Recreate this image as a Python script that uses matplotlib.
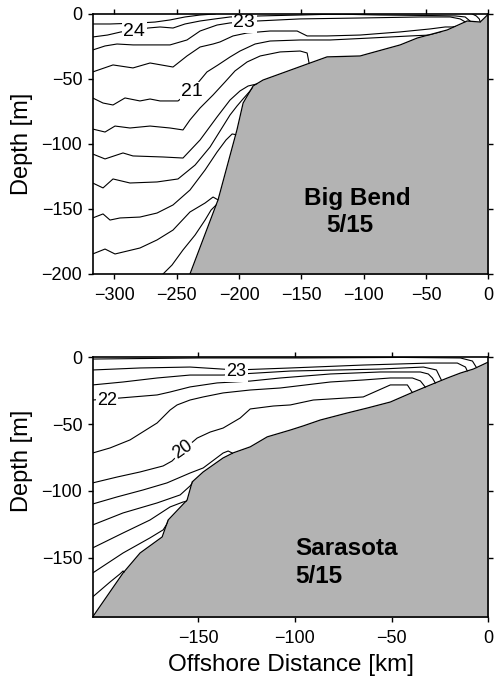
import matplotlib
matplotlib.use('Agg')
import matplotlib.pyplot as plt

plt.rcParams['font.family'] = ['Liberation Sans', 'DejaVu Sans']

# ---------------- Big Bend 5/15 (km offshore, depth m) ----------------
bb_bottom_x = [-239.3, -216.8, -201.6, -196.7, -188.7, -180.7, -143.0, -129.4,
               -102.9, -97.3, -70.8, -57.1, -33.1, -17.1, -6.6, 0.0]
bb_bottom_y = [-200.0, -143.0, -89.0, -68.5, -55.4, -50.8, -37.7, -33.0,
               -32.3, -30.8, -23.8, -18.5, -12.3, -5.4, -6.2, 0.0]

bb_t25_x = [-317.3, -303.4, -291.4, -279.4, -267.3, -255.3, -243.3, -231.2, -219.2]
bb_t25_y = [-7.7, -7.7, -7.3, -6.9, -6.2, -4.6, -2.3, -0.8, 0.0]
bb_t24_x = [-317.3, -305.4, -294.6, -284.2, -273.0, -263.3, -252.9, -243.3, -231.2,
            -219.2, -207.2, -183.0, -151.0, -118.9]
bb_t24_y = [-17.7, -16.2, -13.8, -13.1, -10.8, -10.0, -10.8, -7.7, -5.4,
            -3.8, -2.3, -1.5, -0.8, 0.0]
bb_t23_x = [-317.3, -307.4, -297.8, -284.9, -265.7, -255.3, -241.7, -231.2, -217.6,
            -207.2, -195.9, -185.5, -151.0, -102.9, -54.8, -30.7, -22.7, -18.7]
bb_t23_y = [-27.7, -24.6, -23.1, -23.8, -23.8, -23.8, -20.0, -13.1, -8.5,
            -6.9, -6.2, -5.4, -3.8, -3.1, -2.3, -2.3, -3.8, -6.1]
bb_t22_x = [-317.3, -301.0, -285.0, -271.3, -252.9, -241.7, -231.2, -220.8, -215.2,
            -204.8, -193.5, -175.1, -153.4, -145.4, -129.4, -102.9, -70.8, -46.7,
            -34.7, -29.1, -26.7]
bb_t22_y = [-44.6, -39.2, -41.5, -37.7, -40.8, -32.3, -25.4, -23.1, -21.5,
            -16.9, -14.6, -13.1, -13.1, -16.9, -16.9, -16.2, -13.8, -11.5,
            -10.0, -10.0, -9.6]
bb_t21_x = [-317.3, -309.0, -301.0, -291.4, -279.4, -271.3, -263.3, -248.9, -237.7,
            -225.7, -216.8, -207.2, -199.2, -187.1, -175.1, -151.0, -126.9, -94.9,
            -62.8, -46.7, -40.3, -37.9]
bb_t21_y = [-64.6, -68.5, -70.0, -64.6, -66.9, -65.4, -66.9, -66.9, -58.5,
            -44.6, -39.2, -33.1, -28.5, -23.1, -20.8, -20.0, -20.0, -18.5,
            -16.9, -16.2, -14.6, -13.8]
bb_t20_x = [-317.3, -307.4, -299.4, -287.4, -271.3, -255.3, -244.9, -239.3, -231.2,
            -220.8, -211.2, -203.2, -193.5, -183.0, -167.1, -151.0, -145.4, -143.8]
bb_t20_y = [-88.5, -90.8, -86.2, -87.7, -86.2, -87.7, -89.2, -81.5, -72.3,
            -62.3, -52.3, -43.8, -36.9, -32.3, -29.2, -28.5, -30.0, -37.9]
bb_t19_x = [-317.3, -307.4, -293.0, -285.0, -260.9, -244.9, -231.2, -217.6, -207.2,
            -199.2, -192.7, -185.5]
bb_t19_y = [-107.7, -111.5, -106.9, -109.2, -110.0, -110.8, -96.9, -79.2, -66.2,
            -59.2, -55.4, -53.8]
bb_t18_x = [-317.3, -309.0, -301.0, -287.4, -265.7, -248.9, -235.2, -223.2, -215.2,
            -207.2, -201.6, -196.8, -191.1, -188.7]
bb_t18_y = [-130.0, -133.8, -126.9, -130.0, -129.2, -126.9, -116.2, -102.3, -90.0,
            -77.7, -70.8, -65.4, -59.2, -56.5]
bb_t17_x = [-317.3, -309.0, -303.4, -295.4, -279.4, -265.7, -252.9, -239.3, -227.2,
            -217.6, -210.4, -205.5, -202.5]
bb_t17_y = [-156.9, -153.8, -158.5, -156.9, -156.2, -153.1, -146.9, -135.4, -120.0,
            -106.2, -96.9, -92.3, -92.8]
bb_t16_x = [-317.3, -307.4, -299.4, -279.4, -265.7, -252.9, -239.3, -227.2, -220.8, -216.8]
bb_t16_y = [-184.6, -180.8, -184.6, -180.0, -173.8, -166.2, -152.3, -145.4, -140.8, -143.0]
bb_t15_x = [-260.9, -253.7, -244.9, -235.2, -227.2, -222.4, -218.4]
bb_t15_y = [-200.0, -193.1, -181.5, -170.0, -158.5, -150.8, -147.0]
bb_s1_x = [-126.9, -86.9, -46.7, -26.7, -18.7, -14.6]
bb_s1_y = [0.0, -0.8, -1.2, -1.5, -2.3, -5.6]
bb_s2_x = [-13.0, -9.8, -7.4, -6.6]
bb_s2_y = [0.0, -1.5, -3.8, -6.2]

bb_label_text = ['24', '23', '21']
bb_label_x = [-284.1, -195.9, -237.7]
bb_label_y = [-13.1, -6.9, -60.0]

# ---------------- Sarasota 5/15 ----------------
sa_bottom_x = [-204.5, -188.8, -180.0, -168.6, -165.5, -155.7, -153.1, -147.4, -137.1,
               -131.9, -123.1, -114.3, -102.4, -95.7, -86.9, -72.9, -62.6, -50.7,
               -38.8, -30.0, -21.2, -14.5, -7.8, 0.0]
sa_bottom_y = [-194.5, -161.6, -146.6, -134.6, -121.9, -106.9, -93.4, -85.9, -75.4,
               -71.6, -67.1, -59.6, -54.5, -51.4, -47.0, -41.7, -38.0, -33.5,
               -26.0, -20.7, -15.5, -11.8, -8.8, -3.5]

sa_t235_x = [-204.5, -149.1, -96.7, -44.9, -14.5, -8.3, -6.2]
sa_t235_y = [-1.3, -0.5, -0.5, -0.1, -0.5, -2.8, -7.7]
sa_t23_x = [-204.5, -180.0, -154.2, -130.3, -102.4, -64.7, -30.0, -16.1, -11.9, -10.9]
sa_t23_y = [-9.5, -8.0, -7.3, -9.5, -8.0, -5.8, -4.3, -4.3, -7.3, -10.4]
sa_t225_x = [-204.5, -188.8, -171.2, -154.2, -137.1, -102.4, -55.9, -33.6, -26.9, -24.3]
sa_t225_y = [-20.7, -18.5, -15.5, -13.3, -13.3, -10.3, -8.8, -7.3, -9.5, -17.2]
sa_t22_x = [-204.5, -190.4, -171.2, -164.5, -154.2, -140.2, -123.1, -107.6, -81.7,
            -55.9, -35.2, -31.1, -29.0, -27.4]
sa_t22_y = [-32.0, -30.5, -28.2, -26.0, -22.2, -19.2, -17.8, -15.5, -12.5,
            -11.0, -11.0, -12.5, -15.5, -19.4]
sa_t21_x = [-204.5, -195.5, -185.2, -171.2, -164.5, -160.9, -154.2, -147.4, -137.1,
            -123.1, -107.6, -81.7, -64.7, -50.7, -39.3, -35.2, -32.6]
sa_t21_y = [-71.7, -67.9, -61.9, -49.2, -39.5, -35.7, -32.0, -29.7, -26.7,
            -24.5, -23.0, -18.5, -17.0, -15.5, -15.5, -17.7, -22.4]
sa_t20_x = [-204.5, -191.9, -180.0, -168.1, -163.5, -157.8, -150.5, -143.8, -137.1,
            -128.3, -123.1, -111.2, -102.4, -90.5, -64.7, -50.7, -41.9, -39.3]
sa_t20_y = [-94.1, -89.7, -85.9, -81.4, -77.7, -69.5, -60.5, -56.0, -53.0,
            -45.5, -38.7, -36.5, -35.7, -32.0, -29.7, -20.7, -20.7, -26.5]
sa_t19_x = [-204.5, -191.9, -178.5, -166.1, -154.2, -147.4, -137.1, -134.5, -132.4, -131.9]
sa_t19_y = [-109.9, -104.6, -99.4, -94.1, -86.7, -82.9, -71.7, -70.2, -71.7, -73.2]
sa_t18_x = [-204.5, -188.8, -171.2, -159.3, -154.2, -152.6]
sa_t18_y = [-125.6, -116.6, -109.1, -103.1, -96.4, -93.6]
sa_t17_x = [-204.5, -188.8, -174.9, -164.5, -157.8, -155.7]
sa_t17_y = [-142.8, -131.6, -121.9, -112.1, -108.4, -107.8]
sa_t16_x = [-204.5, -188.8, -174.9, -168.1, -166.1, -165.5]
sa_t16_y = [-161.6, -146.6, -135.3, -129.3, -124.8, -122.6]
sa_t15_x = [-204.5, -195.5, -190.4, -188.8, -188.0]
sa_t15_y = [-179.5, -168.3, -162.3, -160.1, -161.0]

sa_label_text = ['23', '22', '20']
sa_label_x = [-130.3, -197.1, -157.8]
sa_label_y = [-11.0, -32.0, -69.4]
sa_label_rot = [0, 0, 35]

bb_lines = [(bb_t25_x, bb_t25_y), (bb_t24_x, bb_t24_y), (bb_t23_x, bb_t23_y),
            (bb_t22_x, bb_t22_y), (bb_t21_x, bb_t21_y), (bb_t20_x, bb_t20_y),
            (bb_t19_x, bb_t19_y), (bb_t18_x, bb_t18_y), (bb_t17_x, bb_t17_y),
            (bb_t16_x, bb_t16_y), (bb_t15_x, bb_t15_y), (bb_s1_x, bb_s1_y),
            (bb_s2_x, bb_s2_y)]
sa_lines = [(sa_t235_x, sa_t235_y), (sa_t23_x, sa_t23_y), (sa_t225_x, sa_t225_y),
            (sa_t22_x, sa_t22_y), (sa_t21_x, sa_t21_y), (sa_t20_x, sa_t20_y),
            (sa_t19_x, sa_t19_y), (sa_t18_x, sa_t18_y), (sa_t17_x, sa_t17_y),
            (sa_t16_x, sa_t16_y), (sa_t15_x, sa_t15_y)]

GRAY = '#b3b3b3'


def draw_section(ax, lines, bx, by, ybot):
    for xs, ys in lines:
        ax.plot(xs, ys, color='k', lw=0.8, zorder=2)
    ax.fill_between(bx, by, ybot - 20, color=GRAY, lw=0, zorder=3)
    ax.plot(bx, by, color='k', lw=0.9, zorder=4)


def style_axes(ax):
    for s in ax.spines.values():
        s.set_linewidth(1.2)
        s.set_zorder(6)
    ax.tick_params(direction='out', length=3.5, width=1.0, top=True, right=True,
                   labelsize=13, colors='k')
    ax.tick_params(axis='x', pad=5.5)
    ax.tick_params(axis='y', pad=4)


fig = plt.figure(figsize=(4.98, 6.85), dpi=100)

# top panel
ax1 = fig.add_axes([0.1861, 0.6, 0.7948, 0.3796])
draw_section(ax1, bb_lines, bb_bottom_x, bb_bottom_y, -200)
for t, x, y in zip(bb_label_text, bb_label_x, bb_label_y):
    ax1.text(x, y, t, fontsize=14, ha='center', va='center', zorder=5,
             bbox=dict(boxstyle='square,pad=0.08', fc='white', ec='none'))
ax1.set_xlim(-317.3, 0)
ax1.set_ylim(-200, 0)
ax1.set_xticks([-300, -250, -200, -150, -100, -50, 0])
ax1.set_yticks([-200, -150, -100, -50, 0])
style_axes(ax1)
ax1.set_ylabel('Depth [m]', fontsize=17)
ax1.yaxis.set_label_coords(-0.151, 0.5)
ax1.text(0.668, 0.265, 'Big Bend', transform=ax1.transAxes, fontsize=17.5,
         fontweight='bold', ha='center', va='baseline', zorder=7)
ax1.text(0.650, 0.1615, '5/15', transform=ax1.transAxes, fontsize=17.5,
         fontweight='bold', ha='center', va='baseline', zorder=7)

# bottom panel
ax2 = fig.add_axes([0.1861, 0.0988, 0.7948, 0.3796])
draw_section(ax2, sa_lines, sa_bottom_x, sa_bottom_y, -195)
for t, x, y, r in zip(sa_label_text, sa_label_x, sa_label_y, sa_label_rot):
    ax2.text(x, y, t, fontsize=13, ha='center', va='center', rotation=r, zorder=5,
             bbox=dict(boxstyle='square,pad=0.08', fc='white', ec='none'))
ax2.set_xlim(-204.5, 0)
ax2.set_ylim(-194.8, 0)
ax2.set_xticks([-150, -100, -50, 0])
ax2.set_yticks([-150, -100, -50, 0])
style_axes(ax2)
ax2.set_ylabel('Depth [m]', fontsize=17)
ax2.yaxis.set_label_coords(-0.151, 0.6)
ax2.set_xlabel('Offshore Distance [km]', fontsize=17.5, labelpad=5)
ax2.text(0.511, 0.240, 'Sarasota', transform=ax2.transAxes, fontsize=17.5,
         fontweight='bold', ha='left', va='baseline', zorder=7)
ax2.text(0.511, 0.132, '5/15', transform=ax2.transAxes, fontsize=17.5,
         fontweight='bold', ha='left', va='baseline', zorder=7)

fig.savefig('out.png', dpi=100)
